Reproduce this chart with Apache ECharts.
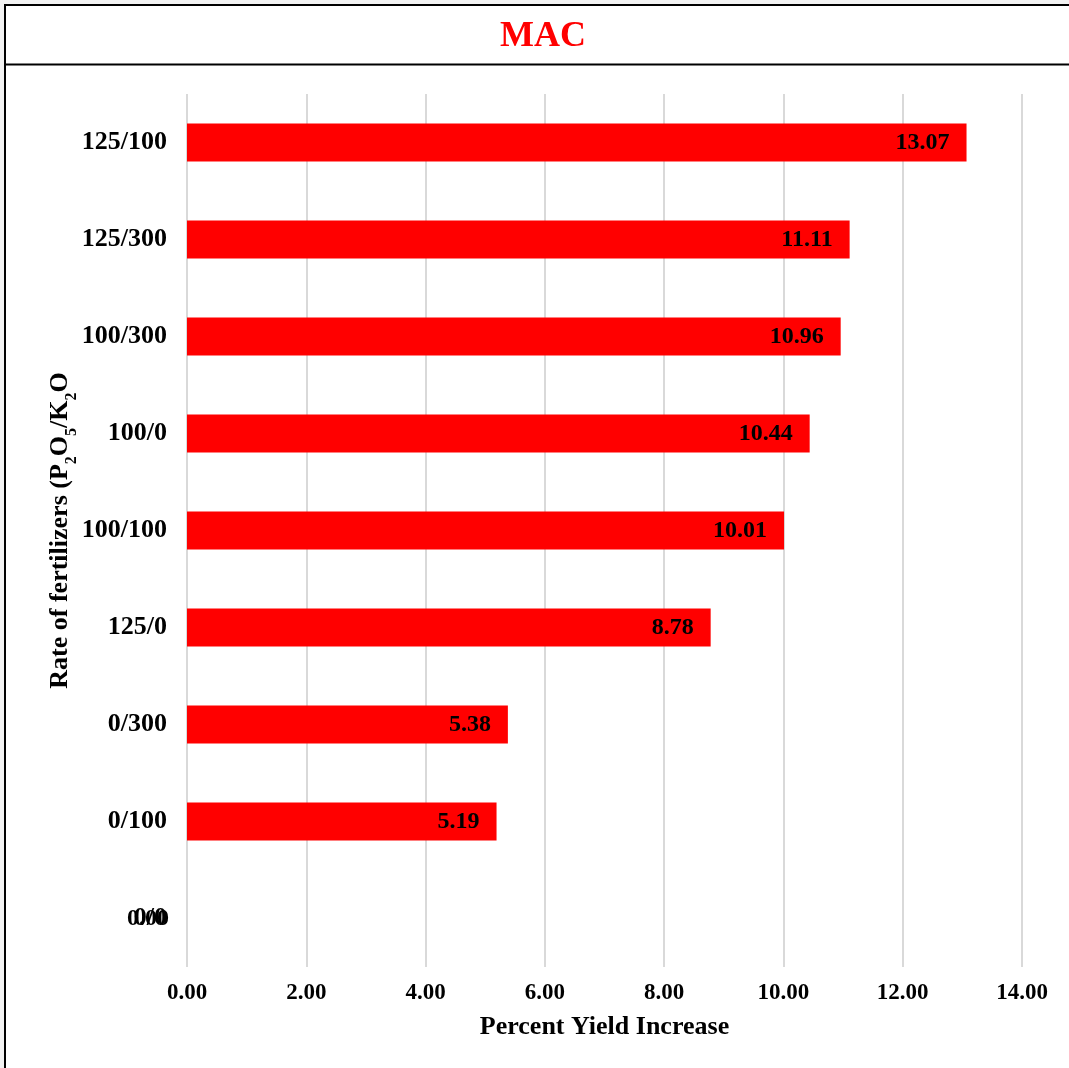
<!DOCTYPE html>
<html>
<head>
<meta charset="utf-8">
<script src="https://cdn.jsdelivr.net/npm/echarts@6/dist/echarts.min.js"></script>
<style>
html,body{margin:0;padding:0;background:#f2f2f2;}
#c{width:1069px;height:1068px;}
</style>
</head>
<body>
<div id="c"></div>
<script>
const categories = ['125/100','125/300','100/300','100/0','100/100','125/0','0/300','0/100','0/0'];
const values = [13.07, 11.11, 10.96, 10.44, 10.01, 8.78, 5.38, 5.19, 0];
const xTicks = [0, 2, 4, 6, 8, 10, 12, 14];

const FONT = '"Liberation Serif","Times New Roman",serif';
const chart = echarts.init(document.getElementById('c'));
chart.setOption({
  backgroundColor: 'transparent',
  animation: false,
  graphic: [
    {type:'rect', shape:{x:5,y:5,width:1080,height:1080}, style:{fill:'#fff', stroke:'#000', lineWidth:2}, z:-10},
    {type:'line', shape:{x1:5,y1:64.5,x2:1075,y2:64.5}, style:{stroke:'#000', lineWidth:2}, z:-9}
  ],
  title: {
    text: 'MAC', left: 495, top: 14,
    textStyle: {color:'#ff0000', fontFamily: FONT, fontWeight:'bold', fontSize:36}
  },
  grid: {left:187, right:1069-1022, top:94, bottom:1068-967, containLabel:false},
  xAxis: {
    type:'value', min:0, max:14, interval:2,
    name:'Percent Yield Increase', nameLocation:'middle', nameGap:47, nameMoveOverlap:false,
    nameTextStyle:{color:'#000', fontFamily:FONT, fontWeight:'bold', fontSize:26},
    axisLine:{show:false}, axisTick:{show:false},
    splitLine:{lineStyle:{color:'#d9d9d9', width:2}},
    axisLabel:{color:'#000', fontFamily:FONT, fontWeight:'bold', fontSize:23, margin:15,
      formatter: v => v.toFixed(2)}
  },
  yAxis: {
    type:'category', data:categories, inverse:true,
    name:'{m|Rate of fertilizers (P}{s|2}{m|O}{s|5}{m|/K}{s|2}{m|O}', nameLocation:'middle', nameGap:112, nameRotate:90,
    nameMoveOverlap:false,
    nameTextStyle:{color:'#000', fontFamily:FONT, fontWeight:'bold', fontSize:26,
      rich:{
        m:{fontFamily:FONT, fontWeight:'bold', fontSize:26, color:'#000', lineHeight:30, verticalAlign:'middle'},
        s:{fontFamily:FONT, fontWeight:'bold', fontSize:16, color:'#000', lineHeight:30, verticalAlign:'bottom', padding:[0,0,-5,0]}
      }},
    axisLine:{show:false}, axisTick:{show:false}, splitLine:{show:false},
    axisLabel:{color:'#000', fontFamily:FONT, fontWeight:'bold', fontSize:26, margin:20}
  },
  series: [{
    type:'bar', barWidth:38,
    data: values.map((v,i) => v === 0 ? {value:v, label:{position:'left', distance:18}} : v),
    itemStyle:{color:'#ff0000'},
    label:{show:true, position:'insideRight', distance:17, color:'#000', fontFamily:FONT, fontWeight:'bold', fontSize:24,
      formatter: p => p.value.toFixed(2)}
  }]
});
</script>
</body>
</html>
